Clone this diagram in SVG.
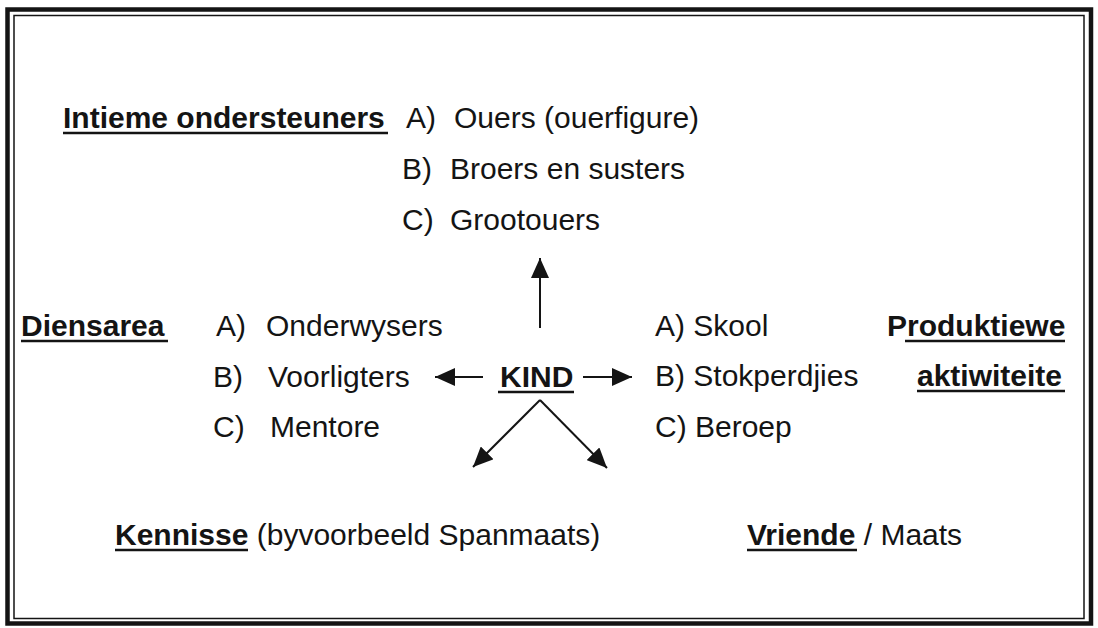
<svg xmlns="http://www.w3.org/2000/svg" width="1098" height="628" viewBox="0 0 1098 628">
<style>
  text { font-family: "Liberation Sans", Arial, sans-serif; font-size: 30px; fill: #141414; }
  .b { font-weight: bold; }
  .ul { stroke: #141414; stroke-width: 2.5; }
  .conn { stroke: #141414; stroke-width: 2; fill: none; }
</style>
<defs>
  <marker id="ah" viewBox="0 0 20 18" refX="20" refY="9" markerWidth="20" markerHeight="18" markerUnits="userSpaceOnUse" orient="auto">
    <path d="M0,0 L20,9 L0,18 z" fill="#141414"/>
  </marker>
</defs>
<rect x="0" y="0" width="1098" height="628" fill="#ffffff"/>
<g id="frame" fill="none" stroke="#141414">
  <rect x="7.5" y="9.5" width="1083.5" height="614" stroke-width="4.5"/>
  <rect x="14" y="15.5" width="1070" height="603" stroke-width="1.5"/>
</g>
<g id="connectors">
  <line class="conn" x1="540" y1="328" x2="540" y2="258" marker-end="url(#ah)"/>
  <line class="conn" x1="483" y1="377" x2="435" y2="377" marker-end="url(#ah)"/>
  <line class="conn" x1="583" y1="377" x2="632" y2="377" marker-end="url(#ah)"/>
  <line class="conn" x1="540" y1="400" x2="473" y2="467" marker-end="url(#ah)"/>
  <line class="conn" x1="540" y1="400" x2="607" y2="468" marker-end="url(#ah)"/>
</g>
<g id="intieme">
  <text class="b" x="63" y="128">Intieme ondersteuners</text>
  <line class="ul" x1="63" y1="133" x2="388" y2="133"/>
  <text x="406" y="128">A)<tspan x="454">Ouers (ouerfigure)</tspan></text>
  <text x="402" y="179">B)<tspan x="450">Broers en susters</tspan></text>
  <text x="402" y="230">C)<tspan x="450">Grootouers</tspan></text>
</g>
<g id="diensarea">
  <text class="b" x="21" y="336">Diensarea</text>
  <line class="ul" x1="21" y1="341" x2="168" y2="341"/>
  <text x="216" y="336">A)<tspan x="266">Onderwysers</tspan></text>
  <text x="213" y="387">B)<tspan x="268">Voorligters</tspan></text>
  <text x="213" y="437">C)<tspan x="270">Mentore</tspan></text>
</g>
<g id="kind">
  <text class="b" x="500" y="387">KIND</text>
  <line class="ul" x1="498" y1="392" x2="574" y2="392"/>
</g>
<g id="produktiewe">
  <text x="655" y="336">A) Skool</text>
  <text x="655" y="386">B) Stokperdjies</text>
  <text x="655" y="437">C) Beroep</text>
  <text class="b" x="887" y="336">Produktiewe</text>
  <line class="ul" x1="905" y1="341" x2="1065" y2="341"/>
  <text class="b" x="917" y="386">aktiwiteite</text>
  <line class="ul" x1="917" y1="391" x2="1065" y2="391"/>
</g>
<g id="kennisse">
  <text x="115" y="545"><tspan class="b">Kennisse</tspan> (byvoorbeeld Spanmaats)</text>
  <line class="ul" x1="115" y1="550" x2="248" y2="550"/>
</g>
<g id="vriende">
  <text x="747" y="545"><tspan class="b">Vriende</tspan> / Maats</text>
  <line class="ul" x1="747" y1="550" x2="857" y2="550"/>
</g>
</svg>
